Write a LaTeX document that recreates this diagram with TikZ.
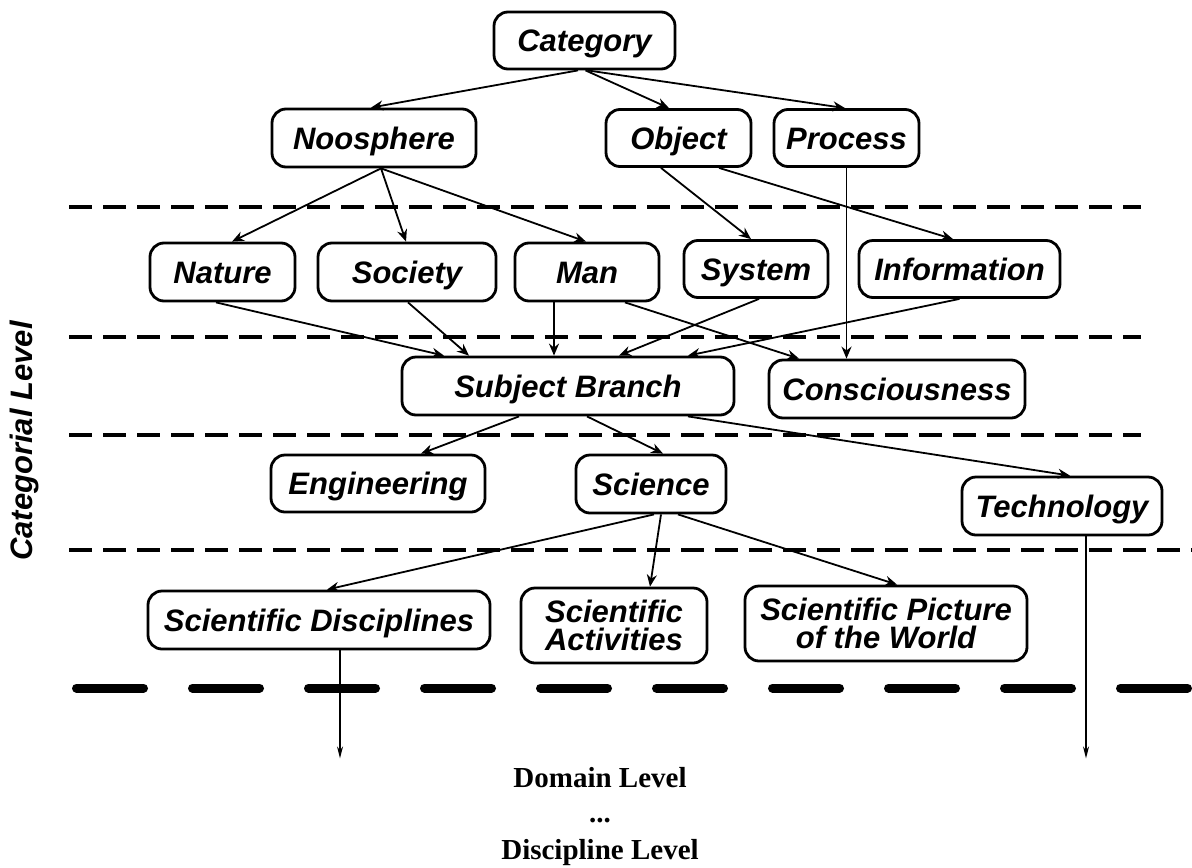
\documentclass[tikz,border=0pt]{standalone}
\usepackage{fontspec}
\setmainfont{Liberation Serif}
\newfontfamily\boxfont{Liberation Sans}
\usetikzlibrary{arrows.meta,calc}
\begin{document}
\begin{tikzpicture}[x=0.5pt,y=-0.5pt,
  box/.style={draw, line width=1.4pt, rounded corners=7pt, inner sep=0pt,
    text height=11.1pt, text depth=0pt,
    font=\boxfont\bfseries\itshape\fontsize{15.5}{14}\selectfont, align=center},
  twoline/.style={text height=25.1pt},
  conn/.style={line width=0.9pt, -{Stealth[length=6pt,width=5pt]}},
  downarr/.style={line width=0.7pt, -{Stealth[length=6pt,width=3pt]}},
  levelline/.style={line width=2pt, dash pattern=on 11.5pt off 5.5pt},
  bigline/.style={line width=4.5pt, line cap=round, dash pattern=on 33.5pt off 24.5pt},
  lbl/.style={font=\bfseries\fontsize{14.5}{16}\selectfont, inner sep=0pt, anchor=base}]
\useasboundingbox (0,0) rectangle (1192,867);

% level separators
\draw[levelline] (69,207) -- (1141,207);
\draw[levelline] (69,337) -- (1141,337);
\draw[levelline] (69,435) -- (1141,435);
\draw[levelline] (69,550) -- (1192,550);
\draw[bigline] (76.5,688) -- (1192,688);

% nodes
\node[box, minimum width=90.5pt, minimum height=28.5pt] (cat) at (584.5,40.5) {Category};
\node[box, minimum width=102pt, minimum height=29pt] (noo) at (374,138) {Noosphere};
\node[box, minimum width=72.5pt, minimum height=28.5pt] (obj) at (678.5,138) {Object};
\node[box, minimum width=72.5pt, minimum height=28.5pt] (proc) at (846.5,138) {Process};

\node[box, minimum width=72.5pt, minimum height=29pt] (nat) at (222.5,272) {Nature};
\node[box, minimum width=89pt, minimum height=29pt] (soc) at (407,272) {Society};
\node[box, minimum width=72pt, minimum height=29pt] (man) at (587,272) {Man};
\node[box, minimum width=72pt, minimum height=28.5pt] (sys) at (756,269) {System};
\node[box, minimum width=100.5pt, minimum height=28.5pt] (info) at (959.5,269) {Information};

\node[box, minimum width=166pt, minimum height=29pt] (sb) at (568,386) {Subject Branch};
\node[box, minimum width=128pt, minimum height=29pt] (cons) at (897,389) {Consciousness};

\node[box, minimum width=107pt, minimum height=28.5pt] (eng) at (378,483.5) {Engineering};
\node[box, minimum width=75pt, minimum height=29pt] (sci) at (651,484) {Science};
\node[box, minimum width=100pt, minimum height=29pt] (tech) at (1062,506) {Technology};

\node[box, minimum width=171pt, minimum height=29pt] (sd) at (319,620) {Scientific Disciplines};
\node[box, twoline, minimum width=93pt, minimum height=37.5pt] (sa) at (614,625.5) {Scientific\\Activities};
\node[box, twoline, minimum width=141pt, minimum height=37.5pt] (spw) at (886,623.5) {Scientific Picture\\of the World};

\node[font=\boxfont\bfseries\itshape\fontsize{15.5}{18}\selectfont, rotate=90, inner sep=0pt] (cl) at (24,441) {Categorial Level};

\node[lbl] (dom) at (600,787) {Domain Level};
\node[lbl] (dots) at (600,822) {...};
\node[lbl] (dis) at (600,859) {Discipline Level};

% connectors
\draw[conn] ($(cat.south)+(-6.5,0)$) -- ($(noo.north)+(-3,0)$);
\draw[conn] ($(cat.south)+(1,0)$) -- ($(obj.north)+(-9.5,0)$);
\draw[conn] ($(cat.south)+(3,0)$) -- ($(proc.north)+(-1.5,0)$);

\draw[conn] ($(noo.south)+(7,0)$) -- ($(nat.north)+(9.5,0)$);
\draw[conn] ($(noo.south)+(7,0)$) -- ($(soc.north)+(-1,0)$);
\draw[conn] ($(noo.south)+(7,0)$) -- ($(man.north)+(-1,0)$);
\draw[conn] ($(obj.south)+(-17.5,0)$) -- ($(sys.north)+(-5,0)$);
\draw[conn] ($(obj.south)+(40.5,0)$) -- ($(info.north)+(-6.5,0)$);
\draw[conn] (proc.south) -- (proc.south |- cons.north);

\draw[conn] ($(nat.south)+(-6.5,0)$) -- ($(sb.north)+(-124,0)$);
\draw[conn] ($(soc.south)+(1,0)$) -- ($(sb.north)+(-99,0)$);
\draw[conn] ($(man.south)+(-33,0)$) -- ($(sb.north)+(-14,0)$);
\draw[conn] ($(man.south)+(38,0)$) -- ($(cons.north)+(-98,0)$);
\draw[conn] ($(sys.south)+(3,0)$) -- ($(sb.north)+(51,0)$);
\draw[conn] (info.south) -- ($(sb.north)+(120,0)$);

\draw[conn] ($(sb.south)+(-49,0)$) -- ($(eng.north)+(43,0)$);
\draw[conn] ($(sb.south)+(19,0)$) -- ($(sci.north)+(12,0)$);
\draw[conn] ($(sb.south)+(120,0)$) -- ($(tech.north)+(8,0)$);

\draw[conn] ($(sci.south)+(3,0)$) -- ($(sd.north)+(8,0)$);
\draw[conn] ($(sci.south)+(10,0)$) -- ($(sa.north)+(36,0)$);
\draw[conn] ($(sci.south)+(27,0)$) -- ($(spw.north)+(11,0)$);

\coordinate (sdend) at ($(sd.south)+(21,108)$);
\coordinate (techend) at ($(tech.south)+(24,222)$);
\draw[downarr] ($(sd.south)+(21,0)$) -- (sdend);
\draw[downarr] ($(tech.south)+(24,0)$) -- (techend);
\end{tikzpicture}
\end{document}
